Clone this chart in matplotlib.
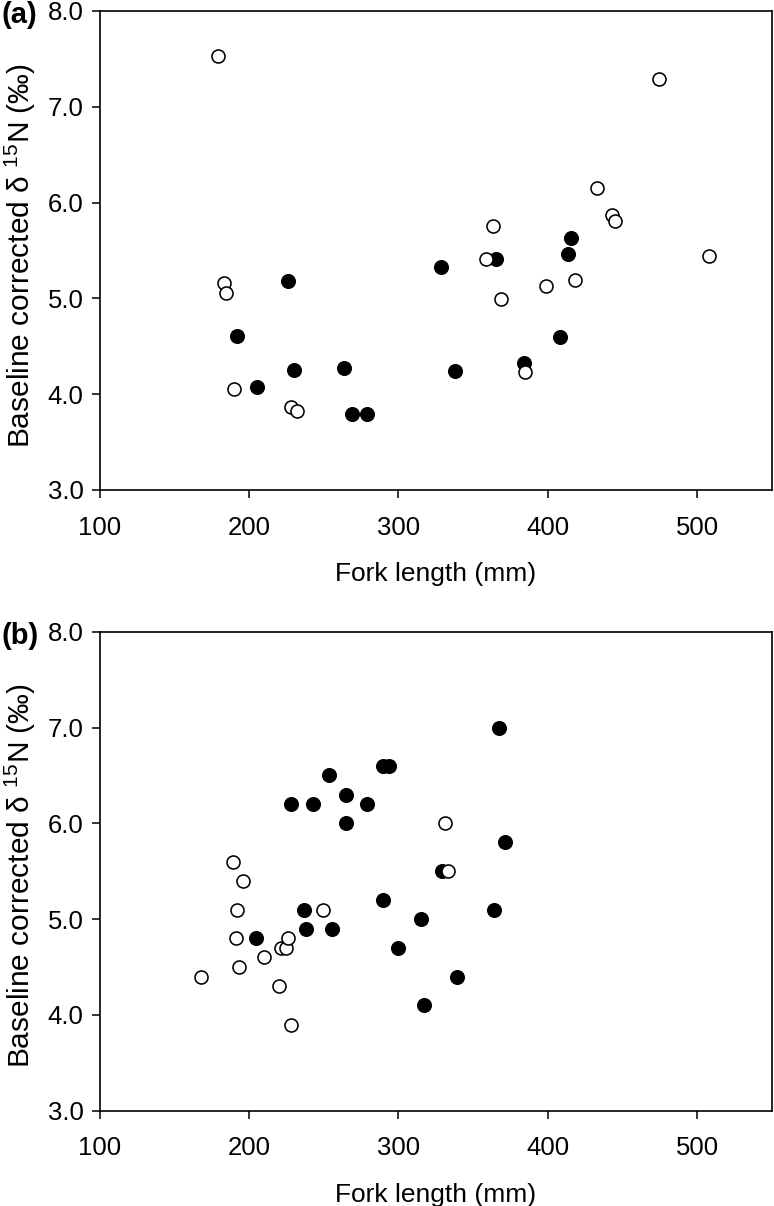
import matplotlib
matplotlib.use('Agg')
import matplotlib.pyplot as plt

plt.rcParams['font.family'] = ['Liberation Sans', 'DejaVu Sans']
plt.rcParams['mathtext.fontset'] = 'custom'
plt.rcParams['mathtext.rm'] = 'Liberation Sans'

# panel (a) - fork length (mm) vs baseline corrected d15N
a_open_x = [179.5, 183.5, 184.4, 190.2, 228.0, 232.0, 358.4, 363.3, 368.4, 385.0,
            398.5, 418.0, 433.2, 443.2, 444.9, 474.1, 507.7]
a_open_y = [7.53, 5.16, 5.06, 4.05, 3.87, 3.82, 5.41, 5.76, 4.99, 4.23,
            5.13, 5.19, 6.15, 5.87, 5.81, 7.29, 5.44]
a_fill_x = [192.2, 205.1, 226.2, 229.8, 263.8, 269.0, 278.7, 328.6, 337.7, 365.5,
            384.0, 408.2, 413.4, 415.4]
a_fill_y = [4.61, 4.08, 5.18, 4.25, 4.27, 3.79, 3.79, 5.33, 4.24, 5.41,
            4.33, 4.60, 5.46, 5.63]

# panel (b)
b_open_x = [167.9, 189.1, 191.1, 191.9, 193.1, 195.9, 209.9, 220.0, 221.6, 224.6,
            226.0, 227.8, 249.8, 331.4, 333.4]
b_open_y = [4.4, 5.6, 4.8, 5.1, 4.5, 5.4, 4.6, 4.3, 4.7, 4.7,
            4.8, 3.9, 5.1, 6.0, 5.5]
b_fill_x = [204.9, 228.0, 236.7, 238.0, 242.5, 253.8, 255.6, 264.7, 264.7, 278.7,
            289.6, 289.9, 293.9, 299.7, 315.4, 317.4, 329.4, 339.5, 364.2, 367.5, 371.3]
b_fill_y = [4.8, 6.2, 5.1, 4.9, 6.2, 6.5, 4.9, 6.3, 6.0, 6.2,
            6.6, 5.2, 6.6, 4.7, 5.0, 4.1, 5.5, 4.4, 5.1, 7.0, 5.8]

xticks = [100, 200, 300, 400, 500]
yticks = [3.0, 4.0, 5.0, 6.0, 7.0, 8.0]

fig = plt.figure(figsize=(7.74, 12.06), dpi=100)
ax1 = fig.add_axes([0.1287, 0.5937, 0.8687, 0.3972])
ax2 = fig.add_axes([0.1287, 0.0790, 0.8687, 0.3972])

panels = [(ax1, '(a)', a_fill_x, a_fill_y, a_open_x, a_open_y),
          (ax2, '(b)', b_fill_x, b_fill_y, b_open_x, b_open_y)]

for ax, tag, fx, fy, ox, oy in panels:
    ax.scatter(fx, fy, s=100, c='black', edgecolors='black', linewidths=0.8, zorder=3)
    ax.scatter(ox, oy, s=88, facecolors='white', edgecolors='black', linewidths=1.15, zorder=3)
    ax.set_xlim(100, 550)
    ax.set_ylim(3, 8)
    ax.set_xticks(xticks)
    ax.set_yticks(yticks)
    ax.set_yticklabels(['%.1f' % v for v in yticks])
    ax.tick_params(direction='out', length=5.5, width=1.1, labelsize=18.5,
                   top=False, right=False)
    ax.tick_params(axis='x', pad=13)
    ax.tick_params(axis='y', pad=6)
    for sp in ax.spines.values():
        sp.set_linewidth(1.2)
    ax.set_xlabel('Fork length (mm)', fontsize=19, labelpad=16)
    ax.set_ylabel('Baseline corrected δ $^{15}$N (‰)', fontsize=21.5)
    ax.yaxis.set_label_coords(-0.091, 0.49)
    ax.text(-0.146, 1.021, tag, transform=ax.transAxes, fontsize=21, fontweight='bold',
            ha='left', va='top')

fig.savefig('out.png', dpi=100)
